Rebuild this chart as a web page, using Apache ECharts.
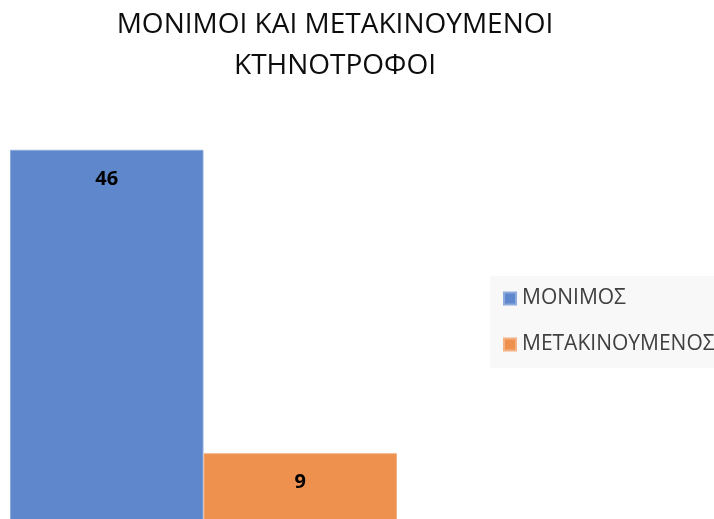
<!DOCTYPE html>
<html>
<head>
<meta charset="utf-8">
<script src="https://cdn.jsdelivr.net/npm/echarts@6/dist/echarts.min.js"></script>
<style>
  html, body { margin: 0; padding: 0; background: #fff; }
  #chart { width: 714px; height: 519px; }
</style>
</head>
<body>
<div id="chart"></div>
<script>
const categories = ["ΚΤΗΝΟΤΡΟΦΟΙ"];
const seriesNames = ["ΜΟΝΙΜΟΣ", "ΜΕΤΑΚΙΝΟΥΜΕΝΟΣ"];
const monimosValues = [46];
const metakinoumenosValues = [9];

const chart = echarts.init(document.getElementById("chart"));

const labelStyle = {
  show: true,
  position: "insideTop",
  distance: 19,
  color: "#000",
  fontFamily: "Open Sans",
  fontWeight: "bold",
  fontSize: 20,
};

chart.setOption({
  backgroundColor: "#fff",
  animation: false,
  title: {
    text: "ΜΟΝΙΜΟΙ ΚΑΙ ΜΕΤΑΚΙΝΟΥΜΕΝΟΙ\nΚΤΗΝΟΤΡΟΦΟΙ",
    left: 335,
    top: 5,
    padding: 0,
    textAlign: "center",
    textStyle: {
      fontFamily: "Open Sans",
      fontWeight: "normal",
      fontSize: 28,
      lineHeight: 41,
      color: "#0d0d0d",
    },
  },
  legend: {
    orient: "vertical",
    left: 490,
    top: 276,
    padding: [12, 120, 13, 13],
    backgroundColor: "#f8f8f8",
    itemWidth: 12,
    itemHeight: 12,
    itemGap: 25,
    icon: "rect",
    textStyle: {
      fontFamily: "Open Sans",
      fontSize: 21,
      color: "#404040",
      padding: [0, 0, 0, 1],
    },
    data: seriesNames,
  },
  grid: {
    left: 0,
    right: 307,
    top: 117,
    height: 410,
    outerBoundsMode: "none",
    containLabel: false,
  },
  xAxis: {
    type: "category",
    data: categories,
    show: false,
  },
  yAxis: {
    type: "value",
    min: 0,
    max: 50,
    show: false,
  },
  series: [
    {
      name: seriesNames[0],
      type: "bar",
      data: monimosValues,
      barWidth: 193.5,
      barGap: "0%",
      itemStyle: { color: "#5f87cb", borderColor: "#8eaadc", borderWidth: 1 },
      label: labelStyle,
    },
    {
      name: seriesNames[1],
      type: "bar",
      data: metakinoumenosValues,
      barWidth: 193.5,
      barGap: "0%",
      itemStyle: { color: "#ee914f", borderColor: "#f4b183", borderWidth: 1 },
      label: labelStyle,
    },
  ],
});
</script>
</body>
</html>
